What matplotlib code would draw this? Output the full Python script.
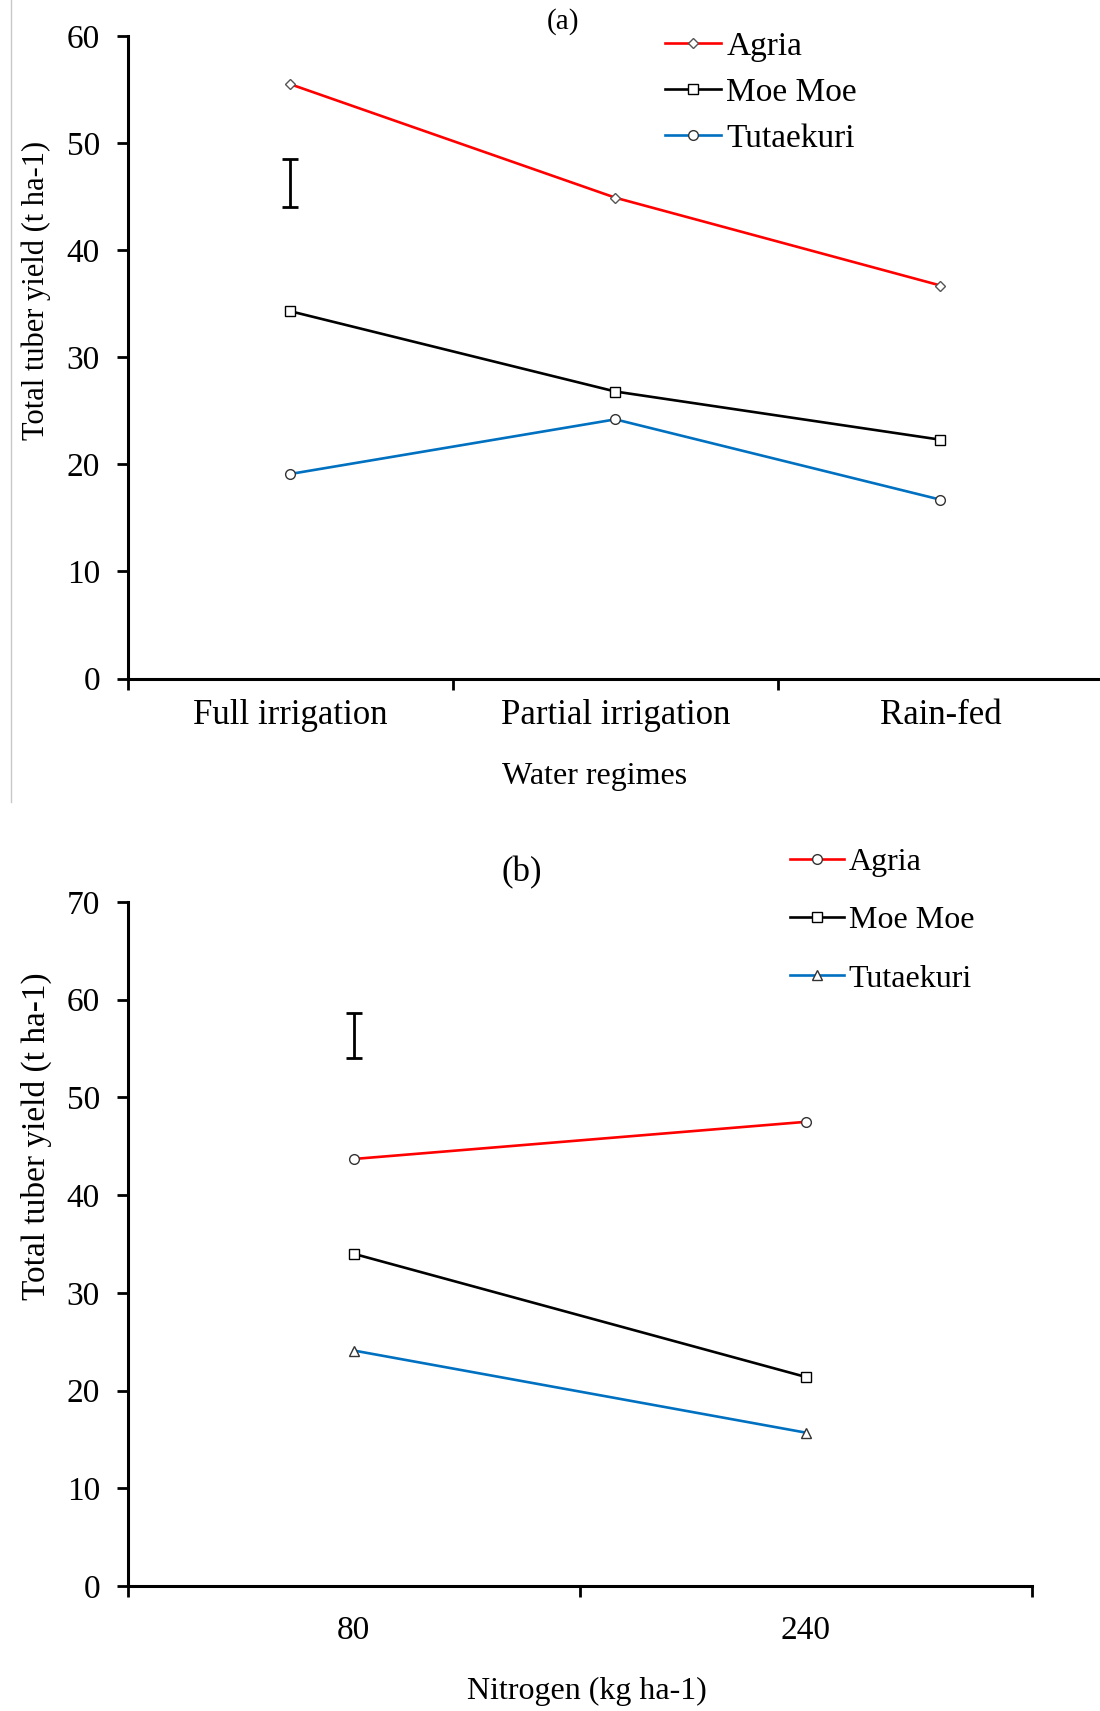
import numpy as np
import matplotlib
matplotlib.use("Agg")
import matplotlib.pyplot as plt
from matplotlib.lines import Line2D

plt.rcParams['font.family'] = ['Liberation Serif', 'DejaVu Serif']

# Panel (a): tuber yield by water regime
water_regimes = ['Full irrigation', 'Partial irrigation', 'Rain-fed']
agria_a = [55.5, 44.9, 36.7]
moemoe_a = [34.3, 26.8, 22.3]
tutaekuri_a = [19.1, 24.2, 16.7]
lsd_a_low, lsd_a_high = 44.0, 48.5

# Panel (b): tuber yield by nitrogen rate
nitrogen_rates = ['80', '240']
agria_b = [43.7, 47.5]
moemoe_b = [34.0, 21.4]
tutaekuri_b = [24.1, 15.7]
lsd_b_low, lsd_b_high = 54.0, 58.6

W, H = 1100, 1711
fig = plt.figure(figsize=(W / 100, H / 100), dpi=100)


def fx(px):
    return px / W


def fy(py):
    return 1 - py / H


RED, BLACK, BLUE = '#ff0000', '#000000', '#0070c0'


def style_axes(ax, n, ymax, ystep, labels, label_size, label_pad):
    ax.set_xlim(0, n)
    ax.set_ylim(0, ymax)
    for s in ('top', 'right'):
        ax.spines[s].set_visible(False)
    for s in ('left', 'bottom'):
        ax.spines[s].set_linewidth(2.2)
        ax.spines[s].set_color('black')
    ax.set_yticks(np.arange(0, ymax + 1, ystep))
    ax.tick_params(axis='y', direction='out', length=8, width=2,
                   labelsize=24, pad=12)
    ax.set_xticks(np.arange(n + 1))
    ax.set_xticklabels([])
    ax.tick_params(axis='x', which='major', direction='out', length=8, width=2)
    ax.set_xticks(np.arange(n) + 0.5, minor=True)
    ax.set_xticklabels(labels, minor=True)
    ax.tick_params(axis='x', which='minor', length=0, labelsize=label_size,
                   pad=label_pad)


def draw_series(ax, values, color, marker, ms, mec, label):
    x = np.arange(len(values)) + 0.5
    line, = ax.plot(x, values, color=color, lw=1.9, marker=marker, ms=ms,
                    mfc='white', mec=mec, mew=1.0, label=label, clip_on=False,
                    zorder=3)
    return line


# ---- Panel (a) ----
ax_a = fig.add_axes([fx(127.7), fy(678.5), fx(1103 - 127.7), (678.5 - 36) / H])
style_axes(ax_a, len(water_regimes), 60, 10, water_regimes, 25, 15)
draw_series(ax_a, agria_a, RED, 'D', 5.5, '#555555', 'Agria')
draw_series(ax_a, moemoe_a, BLACK, 's', 7, '#000000', 'Moe Moe')
draw_series(ax_a, tutaekuri_a, BLUE, 'o', 7, '#333333', 'Tutaekuri')
ax_a.errorbar(0.5, (lsd_a_low + lsd_a_high) / 2, yerr=(lsd_a_high - lsd_a_low) / 2,
              fmt='none', ecolor='black', elinewidth=2, capsize=6, capthick=2)
ax_a.legend(loc='upper left', bbox_to_anchor=(fx(664.6), fy(31)),
            bbox_transform=fig.transFigure, frameon=False, fontsize=24,
            handlelength=1.7, handletextpad=0.15, labelspacing=0.47,
            borderpad=0, borderaxespad=0)
fig.text(fx(563), fy(21.7), '(a)', ha='center', va='center', fontsize=21)
fig.text(fx(594.7), fy(776.5), 'Water regimes', ha='center', va='center', fontsize=23)
fig.text(fx(36), fy(290), 'Total tuber yield (t ha-1)', rotation=90,
         ha='center', va='center', fontsize=22)

# ---- Panel (b) ----
ax_b = fig.add_axes([fx(127.7), fy(1586), fx(1031.5 - 127.7), (1586 - 902) / H])
style_axes(ax_b, len(nitrogen_rates), 70, 10, nitrogen_rates, 24, 21)
draw_series(ax_b, agria_b, RED, 'o', 7, '#333333', 'Agria')
draw_series(ax_b, moemoe_b, BLACK, 's', 7, '#000000', 'Moe Moe')
draw_series(ax_b, tutaekuri_b, BLUE, '^', 7, '#333333', 'Tutaekuri')
ax_b.errorbar(0.5, (lsd_b_low + lsd_b_high) / 2, yerr=(lsd_b_high - lsd_b_low) / 2,
              fmt='none', ecolor='black', elinewidth=2, capsize=6, capthick=2)
ax_b.legend(loc='upper left', bbox_to_anchor=(fx(789.7), fy(848)),
            bbox_transform=fig.transFigure, frameon=False, fontsize=23,
            handlelength=1.7, handletextpad=0.15, labelspacing=0.9,
            borderpad=0, borderaxespad=0)
fig.text(fx(522), fy(873), '(b)', ha='center', va='center', fontsize=25)
fig.text(fx(587), fy(1691), 'Nitrogen (kg ha-1)', ha='center', va='center', fontsize=23)
fig.text(fx(36), fy(1136), 'Total tuber yield (t ha-1)', rotation=90,
         ha='center', va='center', fontsize=24)

# thin left border of the upper panel
fig.add_artist(Line2D([fx(10.5), fx(10.5)], [fy(0), fy(802)],
                      transform=fig.transFigure, color='#c8c8c8', lw=1))

fig.savefig('out.png', dpi=100, facecolor='white')
